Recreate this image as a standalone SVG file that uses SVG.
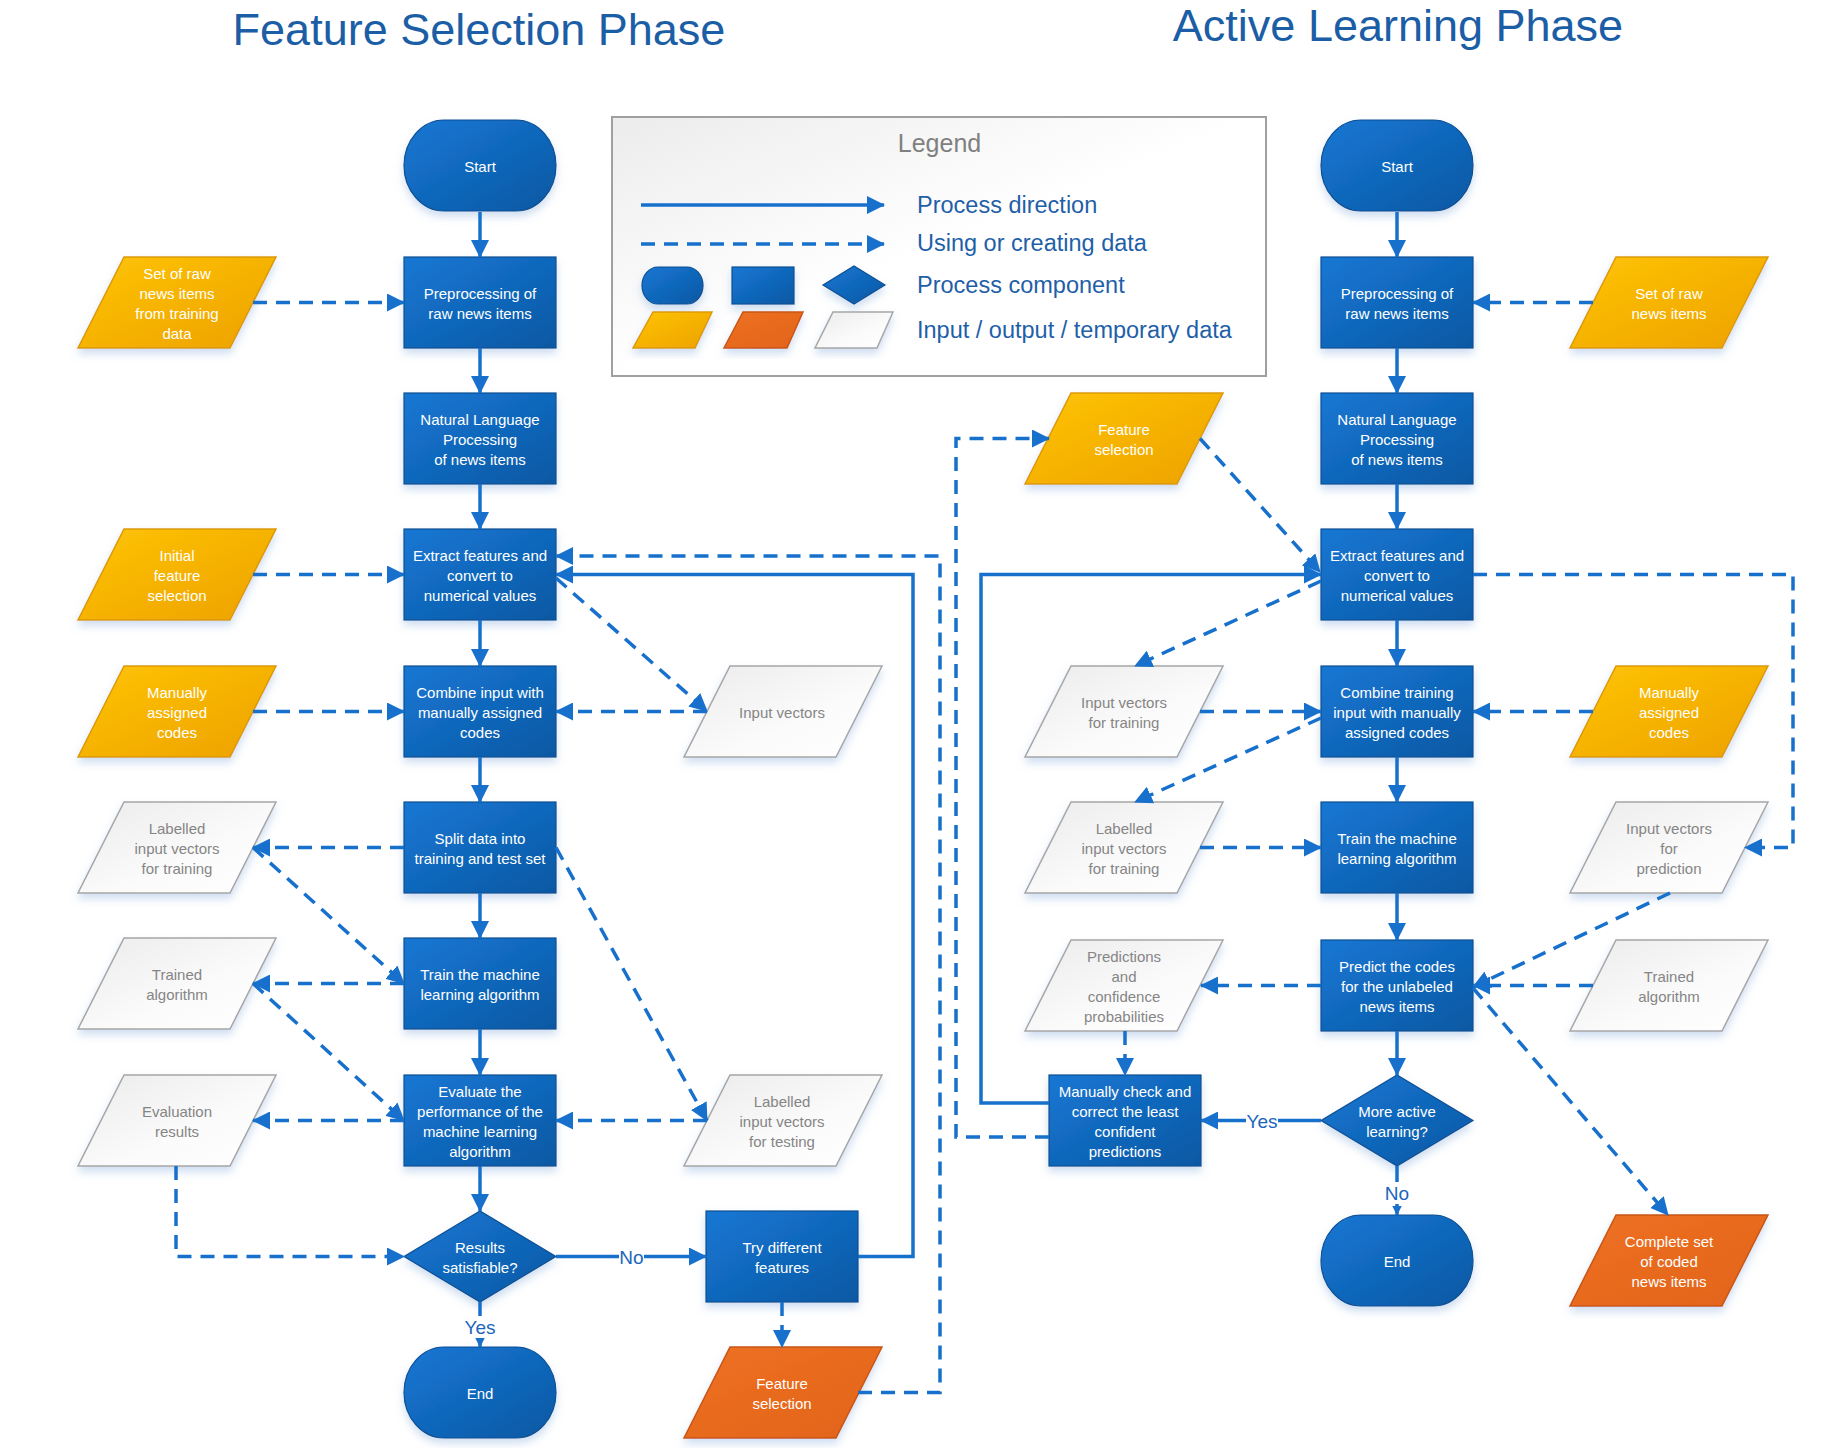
<svg xmlns="http://www.w3.org/2000/svg" width="1828" height="1448" viewBox="0 0 1828 1448">
<defs>
<linearGradient id="gb" x1="0" y1="0" x2="1" y2="1"><stop offset="0" stop-color="#1677d4"/><stop offset="1" stop-color="#0b58a3"/></linearGradient>
<linearGradient id="gy" x1="0" y1="0" x2="1" y2="1"><stop offset="0" stop-color="#ffc408"/><stop offset="1" stop-color="#eda100"/></linearGradient>
<linearGradient id="go" x1="0" y1="0" x2="1" y2="1"><stop offset="0" stop-color="#ee7122"/><stop offset="1" stop-color="#e2631a"/></linearGradient>
<linearGradient id="gw" x1="0" y1="0" x2="1" y2="1"><stop offset="0" stop-color="#ebebeb"/><stop offset="0.6" stop-color="#fbfbfb"/><stop offset="1" stop-color="#ffffff"/></linearGradient>
<linearGradient id="gl" x1="0" y1="0" x2="1" y2="1"><stop offset="0" stop-color="#ececec"/><stop offset="0.5" stop-color="#ffffff"/><stop offset="1" stop-color="#ffffff"/></linearGradient>
<filter id="sh" x="-20%" y="-20%" width="140%" height="150%"><feDropShadow dx="0" dy="5" stdDeviation="4" flood-color="#5a8fcf" flood-opacity="0.3"/></filter>
<marker id="ah" markerUnits="userSpaceOnUse" markerWidth="18" markerHeight="18" refX="17" refY="9" orient="auto" viewBox="0 0 18 18"><path d="M0,0 L18,9 L0,18 z" fill="#1670cc"/></marker>
<marker id="as" markerUnits="userSpaceOnUse" markerWidth="10" markerHeight="10" refX="9.5" refY="5" orient="auto" viewBox="0 0 10 10"><path d="M0,0 L10,5 L0,10 z" fill="#1670cc"/></marker>
<style>
.b{fill:url(#gb);stroke:#0e4f92;stroke-width:1.2;filter:url(#sh)}
.y{fill:url(#gy);stroke:#dc9a05;stroke-width:1.5;filter:url(#sh)}
.o{fill:url(#go);stroke:#c9560f;stroke-width:1.5;filter:url(#sh)}
.w{fill:url(#gw);stroke:#a6a6a6;stroke-width:1.5;filter:url(#sh)}
.t{font-family:"Liberation Sans",Arial,sans-serif;font-size:15px;fill:#ffffff;text-anchor:middle}
.g{font-family:"Liberation Sans",Arial,sans-serif;font-size:15px;fill:#858585;text-anchor:middle}
.s{fill:none;stroke:#1670cc;stroke-width:3.5}
.d{fill:none;stroke:#1670cc;stroke-width:3.5;stroke-dasharray:14 9}
.ttl{font-family:"Liberation Sans",Arial,sans-serif;font-size:45px;fill:#1b5ea6;text-anchor:middle}
.lg{font-family:"Liberation Sans",Arial,sans-serif;font-size:23.5px;fill:#1f5fa8}
.lb{font-family:"Liberation Sans",Arial,sans-serif;font-size:19px;fill:#1a66bd;text-anchor:middle}
</style>
</defs>
<rect width="1828" height="1448" fill="#ffffff"/>
<text class="ttl" x="479" y="45">Feature Selection Phase</text>
<text class="ttl" x="1398" y="41">Active Learning Phase</text>

<g id="legend">
<rect x="612" y="117" width="654" height="259" fill="url(#gl)" stroke="#a0a0a0" stroke-width="2"/>
<text x="939.5" y="152" font-family="Liberation Sans, Arial, sans-serif" font-size="25" fill="#808080" text-anchor="middle">Legend</text>
<line class="s" x1="641" y1="205" x2="884" y2="205" marker-end="url(#ah)"/>
<line class="d" x1="641" y1="244" x2="884" y2="244" marker-end="url(#ah)"/>
<rect class="b" x="642" y="267" width="61" height="37" rx="16" ry="18.5"/>
<rect class="b" x="732" y="267" width="62" height="37"/>
<polygon class="b" points="823,285 854,266 885,285 854,304"/>
<polygon class="y" points="653,312 712,312 695,348 633,348"/>
<polygon class="o" points="743,312 803,312 787,348 724,348"/>
<polygon class="w" points="833,312 893,312 877,348 815,348"/>
<text class="lg" x="917" y="213">Process direction</text>
<text class="lg" x="917" y="251">Using or creating data</text>
<text class="lg" x="917" y="293">Process component</text>
<text class="lg" x="917" y="338">Input / output / temporary data</text>
</g>

<!-- Feature Selection Phase nodes -->
<g id="fs-start"><rect class="b" x="404" y="120" width="152" height="91" rx="40" ry="45.5"/><text class="t" x="480" y="171.5">Start</text></g>
<g id="fs-pre"><rect class="b" x="404" y="257" width="152" height="91"/><text class="t" x="480" y="298.5">Preprocessing of<tspan x="480" dy="20">raw news items</tspan></text></g>
<g id="fs-nlp"><rect class="b" x="404" y="393" width="152" height="91"/><text class="t" x="480" y="424.5">Natural Language<tspan x="480" dy="20">Processing</tspan><tspan x="480" dy="20">of news items</tspan></text></g>
<g id="fs-extract"><rect class="b" x="404" y="529" width="152" height="91"/><text class="t" x="480" y="560.5">Extract features and<tspan x="480" dy="20">convert to</tspan><tspan x="480" dy="20">numerical values</tspan></text></g>
<g id="fs-combine"><rect class="b" x="404" y="666" width="152" height="91"/><text class="t" x="480" y="697.5">Combine input with<tspan x="480" dy="20">manually assigned</tspan><tspan x="480" dy="20">codes</tspan></text></g>
<g id="fs-split"><rect class="b" x="404" y="802" width="152" height="91"/><text class="t" x="480" y="843.5">Split data into<tspan x="480" dy="20">training and test set</tspan></text></g>
<g id="fs-train"><rect class="b" x="404" y="938" width="152" height="91"/><text class="t" x="480" y="979.5">Train the machine<tspan x="480" dy="20">learning algorithm</tspan></text></g>
<g id="fs-evaluate"><rect class="b" x="404" y="1075" width="152" height="91"/><text class="t" x="480" y="1096.5">Evaluate the<tspan x="480" dy="20">performance of the</tspan><tspan x="480" dy="20">machine learning</tspan><tspan x="480" dy="20">algorithm</tspan></text></g>
<g id="fs-decision"><polygon class="b" points="404,1256.5 480,1211 556,1256.5 480,1302"/><text class="t" x="480" y="1252.5">Results<tspan x="480" dy="20">satisfiable?</tspan></text></g>
<g id="fs-end"><rect class="b" x="404" y="1347" width="152" height="91" rx="40" ry="45.5"/><text class="t" x="480" y="1398.5">End</text></g>
<g id="fs-try"><rect class="b" x="706" y="1211" width="152" height="91"/><text class="t" x="782" y="1252.5">Try different<tspan x="782" dy="20">features</tspan></text></g>
<g id="fs-featsel-out"><polygon class="o" points="730,1347 882,1347 836,1438 684,1438"/><text class="t" x="782" y="1388.5">Feature<tspan x="782" dy="20">selection</tspan></text></g>

<g id="fs-rawnews"><polygon class="y" points="124,257 276,257 230,348 78,348"/><text class="t" x="177" y="278.5">Set of raw<tspan x="177" dy="20">news items</tspan><tspan x="177" dy="20">from training</tspan><tspan x="177" dy="20">data</tspan></text></g>
<g id="fs-initial"><polygon class="y" points="124,529 276,529 230,620 78,620"/><text class="t" x="177" y="560.5">Initial<tspan x="177" dy="20">feature</tspan><tspan x="177" dy="20">selection</tspan></text></g>
<g id="fs-manual"><polygon class="y" points="124,666 276,666 230,757 78,757"/><text class="t" x="177" y="697.5">Manually<tspan x="177" dy="20">assigned</tspan><tspan x="177" dy="20">codes</tspan></text></g>
<g id="fs-labtrain"><polygon class="w" points="124,802 276,802 230,893 78,893"/><text class="g" x="177" y="833.5">Labelled<tspan x="177" dy="20">input vectors</tspan><tspan x="177" dy="20">for training</tspan></text></g>
<g id="fs-trained"><polygon class="w" points="124,938 276,938 230,1029 78,1029"/><text class="g" x="177" y="979.5">Trained<tspan x="177" dy="20">algorithm</tspan></text></g>
<g id="fs-evalres"><polygon class="w" points="124,1075 276,1075 230,1166 78,1166"/><text class="g" x="177" y="1116.5">Evaluation<tspan x="177" dy="20">results</tspan></text></g>
<g id="fs-inputvec"><polygon class="w" points="730,666 882,666 836,757 684,757"/><text class="g" x="782" y="717.5">Input vectors</text></g>
<g id="fs-labtest"><polygon class="w" points="730,1075 882,1075 836,1166 684,1166"/><text class="g" x="782" y="1106.5">Labelled<tspan x="782" dy="20">input vectors</tspan><tspan x="782" dy="20">for testing</tspan></text></g>

<!-- Active Learning Phase nodes -->
<g id="al-start"><rect class="b" x="1321" y="120" width="152" height="91" rx="40" ry="45.5"/><text class="t" x="1397" y="171.5">Start</text></g>
<g id="al-pre"><rect class="b" x="1321" y="257" width="152" height="91"/><text class="t" x="1397" y="298.5">Preprocessing of<tspan x="1397" dy="20">raw news items</tspan></text></g>
<g id="al-nlp"><rect class="b" x="1321" y="393" width="152" height="91"/><text class="t" x="1397" y="424.5">Natural Language<tspan x="1397" dy="20">Processing</tspan><tspan x="1397" dy="20">of news items</tspan></text></g>
<g id="al-extract"><rect class="b" x="1321" y="529" width="152" height="91"/><text class="t" x="1397" y="560.5">Extract features and<tspan x="1397" dy="20">convert to</tspan><tspan x="1397" dy="20">numerical values</tspan></text></g>
<g id="al-combine"><rect class="b" x="1321" y="666" width="152" height="91"/><text class="t" x="1397" y="697.5">Combine training<tspan x="1397" dy="20">input with manually</tspan><tspan x="1397" dy="20">assigned codes</tspan></text></g>
<g id="al-train"><rect class="b" x="1321" y="802" width="152" height="91"/><text class="t" x="1397" y="843.5">Train the machine<tspan x="1397" dy="20">learning algorithm</tspan></text></g>
<g id="al-predict"><rect class="b" x="1321" y="940" width="152" height="91"/><text class="t" x="1397" y="971.5">Predict the codes<tspan x="1397" dy="20">for the unlabeled</tspan><tspan x="1397" dy="20">news items</tspan></text></g>
<g id="al-decision"><polygon class="b" points="1321,1120.5 1397,1075 1473,1120.5 1397,1166"/><text class="t" x="1397" y="1116.5">More active<tspan x="1397" dy="20">learning?</tspan></text></g>
<g id="al-end"><rect class="b" x="1321" y="1215" width="152" height="91" rx="40" ry="45.5"/><text class="t" x="1397" y="1266.5">End</text></g>
<g id="al-manualcheck"><rect class="b" x="1049" y="1075" width="152" height="91"/><text class="t" x="1125" y="1096.5">Manually check and<tspan x="1125" dy="20">correct the least</tspan><tspan x="1125" dy="20">confident</tspan><tspan x="1125" dy="20">predictions</tspan></text></g>

<g id="al-featsel"><polygon class="y" points="1071,393 1223,393 1177,484 1025,484"/><text class="t" x="1124" y="434.5">Feature<tspan x="1124" dy="20">selection</tspan></text></g>
<g id="al-inputtrain"><polygon class="w" points="1071,666 1223,666 1177,757 1025,757"/><text class="g" x="1124" y="707.5">Input vectors<tspan x="1124" dy="20">for training</tspan></text></g>
<g id="al-labtrain"><polygon class="w" points="1071,802 1223,802 1177,893 1025,893"/><text class="g" x="1124" y="833.5">Labelled<tspan x="1124" dy="20">input vectors</tspan><tspan x="1124" dy="20">for training</tspan></text></g>
<g id="al-predictions"><polygon class="w" points="1071,940 1223,940 1177,1031 1025,1031"/><text class="g" x="1124" y="961.5">Predictions<tspan x="1124" dy="20">and</tspan><tspan x="1124" dy="20">confidence</tspan><tspan x="1124" dy="20">probabilities</tspan></text></g>
<g id="al-rawnews"><polygon class="y" points="1616,257 1768,257 1722,348 1570,348"/><text class="t" x="1669" y="298.5">Set of raw<tspan x="1669" dy="20">news items</tspan></text></g>
<g id="al-manual"><polygon class="y" points="1616,666 1768,666 1722,757 1570,757"/><text class="t" x="1669" y="697.5">Manually<tspan x="1669" dy="20">assigned</tspan><tspan x="1669" dy="20">codes</tspan></text></g>
<g id="al-inputpred"><polygon class="w" points="1616,802 1768,802 1722,893 1570,893"/><text class="g" x="1669" y="833.5">Input vectors<tspan x="1669" dy="20">for</tspan><tspan x="1669" dy="20">prediction</tspan></text></g>
<g id="al-trained"><polygon class="w" points="1616,940 1768,940 1722,1031 1570,1031"/><text class="g" x="1669" y="981.5">Trained<tspan x="1669" dy="20">algorithm</tspan></text></g>
<g id="al-complete"><polygon class="o" points="1616,1215 1768,1215 1722,1306 1570,1306"/><text class="t" x="1669" y="1246.5">Complete set<tspan x="1669" dy="20">of coded</tspan><tspan x="1669" dy="20">news items</tspan></text></g>

<g id="connectors">
<!-- FS process -->
<path class="s" d="M480,212 V257" marker-end="url(#ah)"/>
<path class="s" d="M480,348 V393" marker-end="url(#ah)"/>
<path class="s" d="M480,484 V529" marker-end="url(#ah)"/>
<path class="s" d="M480,620 V666" marker-end="url(#ah)"/>
<path class="s" d="M480,757 V802" marker-end="url(#ah)"/>
<path class="s" d="M480,893 V938" marker-end="url(#ah)"/>
<path class="s" d="M480,1029 V1075" marker-end="url(#ah)"/>
<path class="s" d="M480,1166 V1211" marker-end="url(#ah)"/>
<path class="s" d="M480,1302 V1347" marker-end="url(#as)"/>
<path class="s" d="M556,1256.5 H706" marker-end="url(#ah)"/>
<path class="s" d="M858,1256.5 H913 V574.5 H556" marker-end="url(#ah)"/>
<!-- FS data -->
<path class="d" d="M253,302.5 H404" marker-end="url(#ah)"/>
<path class="d" d="M253,574.5 H404" marker-end="url(#ah)"/>
<path class="d" d="M253,711.5 H404" marker-end="url(#ah)"/>
<path class="d" d="M707,711.5 H556" marker-end="url(#ah)"/>
<path class="d" d="M556,578 L707,711" marker-end="url(#ah)"/>
<path class="d" d="M404,847.5 H253" marker-end="url(#ah)"/>
<path class="d" d="M253,847.5 L404,983.5" marker-end="url(#ah)"/>
<path class="d" d="M404,983.5 H253" marker-end="url(#ah)"/>
<path class="d" d="M253,983.5 L404,1120.5" marker-end="url(#ah)"/>
<path class="d" d="M404,1120.5 H253" marker-end="url(#ah)"/>
<path class="d" d="M707,1120.5 H556" marker-end="url(#ah)"/>
<path class="d" d="M556,847.5 L707,1120.5" marker-end="url(#ah)"/>
<path class="d" d="M176,1166 V1256.5 H404" marker-end="url(#ah)"/>
<path class="d" d="M782,1302 V1347" marker-end="url(#ah)"/>
<path class="d" d="M858,1392.5 H940 V556 H556" marker-end="url(#ah)"/>
<!-- AL process -->
<path class="s" d="M1397,212 V257" marker-end="url(#ah)"/>
<path class="s" d="M1397,348 V393" marker-end="url(#ah)"/>
<path class="s" d="M1397,484 V529" marker-end="url(#ah)"/>
<path class="s" d="M1397,620 V666" marker-end="url(#ah)"/>
<path class="s" d="M1397,757 V802" marker-end="url(#ah)"/>
<path class="s" d="M1397,893 V940" marker-end="url(#ah)"/>
<path class="s" d="M1397,1031 V1075" marker-end="url(#ah)"/>
<path class="s" d="M1397,1166 V1215" marker-end="url(#as)"/>
<path class="s" d="M1321,1120.5 H1201" marker-end="url(#ah)"/>
<path class="s" d="M1049,1103 H981 V574.5 H1321" marker-end="url(#ah)"/>
<!-- AL data -->
<path class="d" d="M1593,302.5 H1473" marker-end="url(#ah)"/>
<path class="d" d="M1200,438.5 L1320,572" marker-end="url(#ah)"/>
<path class="d" d="M1321,581 L1135,666" marker-end="url(#ah)"/>
<path class="d" d="M1200,711.5 H1321" marker-end="url(#ah)"/>
<path class="d" d="M1593,711.5 H1473" marker-end="url(#ah)"/>
<path class="d" d="M1321,718 L1135,802" marker-end="url(#ah)"/>
<path class="d" d="M1200,847.5 H1321" marker-end="url(#ah)"/>
<path class="d" d="M1473,574.5 H1793 V847.5 H1745" marker-end="url(#ah)"/>
<path class="d" d="M1670,893 L1473,987" marker-end="url(#ah)"/>
<path class="d" d="M1593,985.5 H1473" marker-end="url(#ah)"/>
<path class="d" d="M1321,985.5 H1201" marker-end="url(#ah)"/>
<path class="d" d="M1125,1031 V1075" marker-end="url(#ah)"/>
<path class="d" d="M1473,988 L1668,1215" marker-end="url(#ah)"/>
<path class="d" d="M1049,1137 H956 V438.5 H1049" marker-end="url(#ah)"/>
<!-- labels -->
<rect x="619" y="1246" width="25" height="22" fill="#ffffff"/>
<text class="lb" x="631.5" y="1264">No</text>
<rect x="464" y="1316" width="32" height="22" fill="#ffffff"/>
<text class="lb" x="480" y="1334">Yes</text>
<rect x="1246" y="1110" width="32" height="22" fill="#ffffff"/>
<text class="lb" x="1262" y="1128">Yes</text>
<rect x="1385" y="1182" width="25" height="22" fill="#ffffff"/>
<text class="lb" x="1397" y="1200">No</text>
</g>
</svg>
